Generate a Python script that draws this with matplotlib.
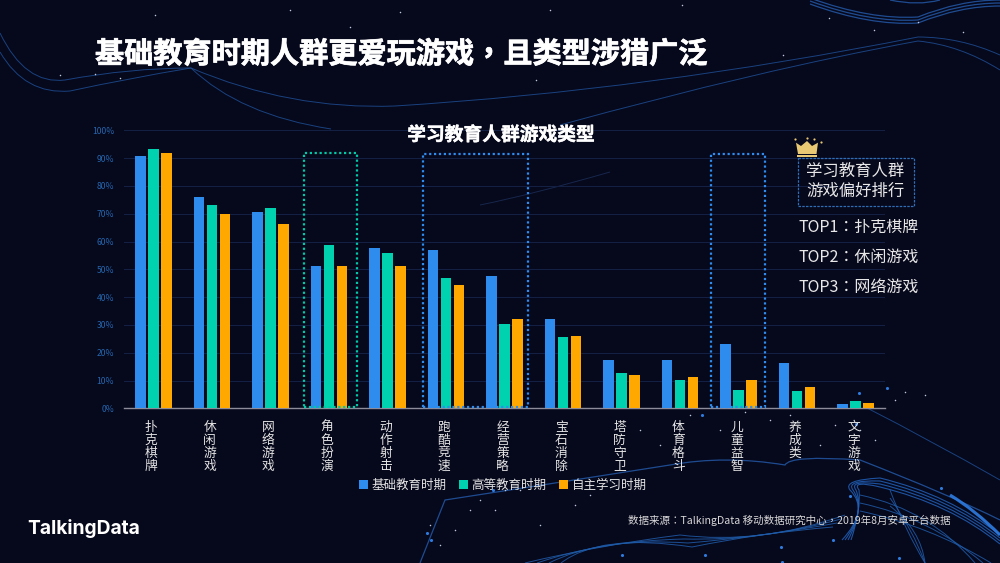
import numpy as np
import matplotlib
matplotlib.use("Agg")
import matplotlib.pyplot as plt
from matplotlib.patches import Rectangle, Polygon, PathPatch
from matplotlib.path import Path
import matplotlib.patheffects as pe

plt.rcParams['font.family'] = ['Noto Sans CJK SC', 'DejaVu Sans']
TC = ['Noto Sans CJK TC', 'DejaVu Sans']

categories = ["扑克棋牌", "休闲游戏", "网络游戏", "角色扮演", "动作射击", "跑酷竞速", "经营策略",
              "宝石消除", "塔防守卫", "体育格斗", "儿童益智", "养成类", "文字游戏"]
basic = [90.9, 76.1, 70.7, 51.3, 57.6, 56.8, 47.7, 32.3, 17.3, 17.5, 23.3, 16.4, 1.4]
higher = [93.2, 73.1, 71.9, 58.6, 56.0, 47.0, 30.2, 25.7, 12.6, 10.3, 6.5, 6.2, 2.8]
self_study = [91.7, 69.8, 66.2, 51.3, 51.1, 44.2, 32.0, 26.1, 12.1, 11.3, 10.3, 7.8, 2.0]
series_names = ["基础教育时期", "高等教育时期", "自主学习时期"]
colors = ["#2E8CEE", "#00D2B0", "#FFA900"]
top_lines = ["TOP1：扑克棋牌", "TOP2：休闲游戏", "TOP3：网络游戏"]

W, H = 1000, 563
BG = "#06081C"
fig = plt.figure(figsize=(10, 5.63), dpi=100, facecolor=BG)

# decorative background layer in pixel coordinates
bg = fig.add_axes([0, 0, 1, 1], zorder=0)
bg.set_xlim(0, W); bg.set_ylim(H, 0); bg.axis("off")
def curve(pts, color="#1D4C90", lw=0.7, alpha=0.85):
    if len(pts) % 2 == 0:
        pts = pts[:1] + [pts[1]] + pts[1:]
    codes = [Path.MOVETO] + [Path.CURVE3] * (len(pts) - 1)
    bg.add_patch(PathPatch(Path(pts, codes), fc="none", ec=color, lw=lw, alpha=alpha))

# top
curve([(0, 33), (25, 85), (65, 80), (130, 68), (191, 68), (290, 110), (395, 106),
       (650, 90), (918, 37), (960, 37), (1000, 55)])
curve([(0, 52), (25, 95), (70, 91), (130, 78), (191, 68), (240, 115), (331, 129)])
curve([(560, 125), (760, 70), (918, 41), (960, 45), (1000, 70)])
for dy in (0, 3, 6):
    curve([(810, -2 + dy), (870, 20 + dy), (918, 17 + dy), (960, 0 + dy), (1000, 0 + dy)],
          color="#2358A5", lw=0.9)
curve([(890, 0), (918, 6), (940, 0)], color="#2358A5", lw=0.9)
curve([(480, 205), (530, 195), (610, 172)], color="#1A2C55")
# lower arcs
curve([(420, 563), (445, 500), (530, 487), (670, 465), (725, 455), (785, 465), (790, 455),
       (860, 460), (950, 495), (1000, 520)], color="#2358A5", lw=0.9)
curve([(867, 408), (930, 440), (1000, 480)])
for k in range(4):
    d = k * 4
    curve([(525 + d * 3, 563), (600, 545 - d), (680 + d, 535 + d), (760, 545 - d), (845 - d, 515 + d)],
          color="#1F5BA8")
for k in range(4):
    d = k * 3
    curve([(842 + d, 540), (870 - d, 510), (850 + d, 490), (842 + d, 480), (880, 478 + d),
           (950, 495 + d), (1000, 535 + d)], color="#2160B8", lw=0.8)
curve([(950, 495), (975, 510), (1000, 535)], color="#2E7BE0", lw=2.2, alpha=0.9)
for k in range(3):
    d = k * 8
    curve([(860, 495 + d), (930, 510 + d), (975 + d, 563)], color="#1F5BA8")
    curve([(890, 490 + d), (905 + d, 530), (925, 563)], color="#1F5BA8")

star_x = [155, 400, 290, 350, 60, 95, 120, 550, 682, 536, 829, 874, 783, 918, 963, 640, 660, 675, 690,
          720, 745, 770, 790, 820, 835, 860, 875, 925, 480, 495, 505, 520, 540, 560, 575, 590, 455,
          430, 440, 470, 895, 905, 610]
star_y = [15, 12, 10, 27, 75, 74, 78, 10, 5, 80, 18, 30, 55, 22, 32, 430, 445, 425, 415, 430, 412, 420,
          415, 445, 425, 430, 440, 395, 500, 510, 490, 490, 525, 470, 505, 495, 530, 525, 545, 510, 400,
          392, 480]
bg.scatter(star_x, star_y, s=1.2, c="#BFC8DC", linewidths=0)
blue_x = [427, 431, 493, 622, 702, 856, 887, 850, 859, 941, 781, 705, 899, 833, 782]
blue_y = [533, 540, 490, 555, 415, 424, 388, 496, 393, 488, 547, 555, 558, 540, 562]
bg.scatter(blue_x, blue_y, s=5, c="#2E7BE0", linewidths=0)

# main chart
left, right, top, bottom = 124, 885, 130.3, 408.3
ax = fig.add_axes([left / W, 1 - bottom / H, (right - left) / W, (bottom - top) / H], zorder=2)
ax.patch.set_alpha(0)
x = np.arange(len(categories))
width, step = 0.18, 0.222
for i, (vals, col) in enumerate(zip([basic, higher, self_study], colors)):
    ax.bar(x + (i - 1) * step, vals, width=width, color=col, label=series_names[i], zorder=3)
ax.set_xlim(-0.5, len(categories) - 0.5)
ax.set_ylim(0, 100)
ax.set_yticks(np.arange(0, 101, 10))
ax.set_yticklabels([f"{v}%" for v in range(0, 101, 10)], fontsize=6.2, color="#2566AE")
ax.grid(axis="y", color="#141F44", lw=0.8, zorder=1)
ax.set_axisbelow(True)
ax.set_xticks(x - 0.034)
ax.set_xticklabels(["\n".join(c) for c in categories], fontsize=9.2, color="#E4E4E4",
                   linespacing=1.0, va="top", fontweight="light")
ax.tick_params(axis="both", length=0)
ax.tick_params(axis="x", pad=9)
ax.tick_params(axis="y", pad=7)
for s in ["top", "right", "left"]:
    ax.spines[s].set_visible(False)
ax.spines["bottom"].set_color("#8C8C9A")
ax.spines["bottom"].set_linewidth(1.0)

# dotted highlight boxes: first index, last index, left pad, right pad, colour, top
for i0, i1, lp, rp, col, ytop in [(3, 3, 0.417, 0.48, "#00C9A7", 92),
                                  (5, 6, 0.393, 0.40, "#2E8CEE", 91.5),
                                  (10, 10, 0.473, 0.449, "#2E8CEE", 91.5)]:
    ax.add_patch(Rectangle((i0 - lp, 0.5), i1 - i0 + lp + rp, ytop - 0.5, fc="none", ec=col,
                           lw=1.6, ls=(0, (1, 1.2)), zorder=4, clip_on=False))

ax.legend(loc="upper center", bbox_to_anchor=(0.4975, -0.232), ncol=3, frameon=False,
          labelcolor="#E4E4E4", handlelength=0.75, handleheight=0.75, handletextpad=0.3,
          columnspacing=0.95, borderpad=0, prop={"size": 9, "weight": "light"})

# overlay text in pixel coordinates
ov = fig.add_axes([0, 0, 1, 1], zorder=3)
ov.set_xlim(0, W); ov.set_ylim(H, 0); ov.axis("off")
ov.text(95, 54, "基础教育时期人群更爱玩游戏，且类型涉猎广泛", fontsize=21, fontweight="bold",
        color="white", va="center", ha="left", family=TC,
        path_effects=[pe.withStroke(linewidth=0.5, foreground="white")])
ov.text(501, 135, "学习教育人群游戏类型", fontsize=13.5, fontweight="bold", color="white",
        va="center", ha="center", path_effects=[pe.withStroke(linewidth=0.3, foreground="white")])

# crown
crown = [(796, 142.7), (801, 146), (807, 141), (812, 146), (818, 142.7), (816.5, 154), (798, 154)]
ov.add_patch(Polygon(crown, closed=True, fc="#E8C873", ec="none"))
ov.add_patch(Rectangle((797, 155), 20, 2.2, fc="#E8C873", ec="none"))
ov.scatter([795, 807, 814, 821], [139, 138, 138.5, 141.5], s=2.5, c="#E8C873", linewidths=0)

ov.add_patch(Rectangle((797.5, 157.5), 116, 48, fc="none", ec="#2E6FB5", lw=0.9, ls=(0, (2, 1))))
ov.text(855, 171, "学习教育人群", fontsize=11.8, color="#E8E8E8", ha="center", va="center", fontweight="light")
ov.text(855, 191, "游戏偏好排行", fontsize=11.8, color="#E8E8E8", ha="center", va="center", fontweight="light")
for y, t in zip([227, 257, 287], top_lines):
    ov.text(798.5, y, t, fontsize=11.5, color="#E8E8E8", ha="left", va="center", family=TC, fontweight="light")

ov.text(950, 520, "数据来源：TalkingData 移动数据研究中心，2019年8月安卓平台数据", fontsize=7.6,
        color="#D8D8D8", ha="right", va="center", family=TC, fontweight="light")
ov.text(27, 528, "TalkingData", fontsize=13.8, fontweight="bold", family="Inter", color="white",
        ha="left", va="center")

fig.savefig("out.png", dpi=100, facecolor=BG)
